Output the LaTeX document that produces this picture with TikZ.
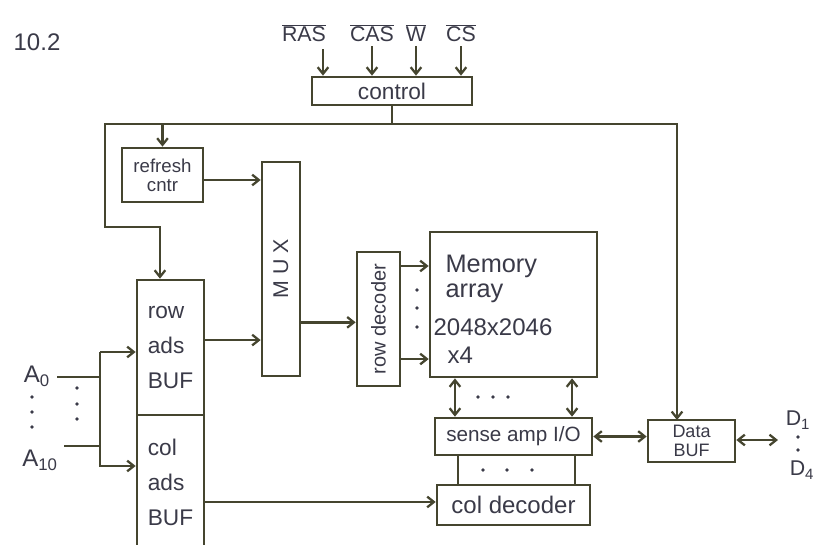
\documentclass[tikz,border=0pt]{standalone}
\usepackage{fontspec}
\setmainfont{Liberation Sans}
\usetikzlibrary{arrows.meta}
\definecolor{ink}{HTML}{45452F}
\definecolor{txt}{HTML}{3A3A48}
\tikzset{
  box/.style={draw=ink, line width=2pt, rectangle, inner sep=0pt, text=txt, font=\fontsize{13}{15}\selectfont},
  conn/.style={draw=ink, line width=2pt},
  arr/.style={conn, -{Straight Barb[length=5pt,width=8pt,line width=1.7pt]}},
  darr/.style={conn, {Straight Barb[length=5pt,width=8pt,line width=1.7pt]}-{Straight Barb[length=5pt,width=8pt,line width=1.7pt]}},
  lbl/.style={text=txt, font=\fontsize{16}{18}\selectfont, inner sep=1pt},
  dotc/.style={fill=txt, circle, inner sep=0pt, minimum size=2.8pt}
}
\begin{document}
\begin{tikzpicture}[x=0.75pt,y=-0.75pt]
\useasboundingbox (0,0) rectangle (820,544);
\fill[white] (0,0) rectangle (820,544);

% title
\node[lbl, font=\fontsize{18}{20}\selectfont] (title) at (37,42) {10.2};

% control signals
\node[lbl] (ras) at (304,33) {$\overline{\mbox{RAS}}$};
\node[lbl] (cas) at (372,33) {$\overline{\mbox{CAS}}$};
\node[lbl] (w) at (416,33) {$\overline{\mbox{W}}$};
\node[lbl] (cs) at (461,33) {$\overline{\mbox{CS}}$};

% boxes
\node[box, minimum width=120pt, minimum height=21pt, font=\fontsize{17}{19}\selectfont] (control) at (392,91) {control};
\node[box, minimum width=60.75pt, minimum height=40.5pt, align=center, font=\fontsize{14}{14}\selectfont] (refresh) at (162.5,175) {refresh\\cntr};
\node[box, minimum width=28.5pt, minimum height=160.5pt, font=\fontsize{16}{18}\selectfont] (mux) at (281,269) {\rotatebox{90}{M U X}};
\node[box, minimum width=50.25pt, minimum height=101.25pt, align=left, font=\fontsize{17}{26}\selectfont] (rowbuf) at (170.5,347.5) {row\\ads\\BUF};
\node[box, minimum width=50.25pt, minimum height=101.25pt, align=left, font=\fontsize{17}{26}\selectfont] (colbuf) at (170.5,482.5) {col\\ads\\BUF};
\node[box, minimum width=32.25pt, minimum height=100.5pt, font=\fontsize{15}{17}\selectfont] (rowdec) at (378.5,319) {\rotatebox{90}{row decoder}};
\node[box, minimum width=125.25pt, minimum height=108.75pt] (mem) at (513.5,304.5) {};
\node[lbl, anchor=west, font=\fontsize{19}{21}\selectfont] (memt1) at (444,266) {Memory};
\node[lbl, anchor=west, font=\fontsize{19}{21}\selectfont] (memt2) at (444,293) {array};
\node[lbl, anchor=west, font=\fontsize{18}{20}\selectfont] (memt3) at (432,327) {2048x2046};
\node[lbl, anchor=west, font=\fontsize{18}{20}\selectfont] (memt4) at (446,355) {x4};
\node[box, minimum width=117.75pt, minimum height=27.75pt, font=\fontsize{15.5}{17}\selectfont] (sense) at (513.5,436.5) {sense amp I/O};
\node[box, minimum width=114.75pt, minimum height=30pt, font=\fontsize{18}{20}\selectfont] (coldec) at (513.5,505) {col decoder};
\node[box, minimum width=65.25pt, minimum height=31.5pt, align=center, font=\fontsize{13.5}{14.5}\selectfont] (databuf) at (691.5,441) {Data\\BUF};

% signal arrows into control
\draw[arr] (ras.south -| 323,0) ++(0,6) coordinate (rasS) -- (rasS |- control.north);
\draw[arr] ([yshift=-2pt]cas.south) -- (cas.south |- control.north);
\draw[arr] ([yshift=-2pt]w.south) -- (w.south |- control.north);
\draw[arr] ([yshift=-2pt]cs.south) -- (cs.south |- control.north);

% control bus
\coordinate (busJ) at (392,124);
\coordinate (busLL) at (105,227);
\coordinate (dbin) at (677,420);
\draw[conn] (control.south) -- (busJ);
\draw[arr] (busJ) -| (dbin);
\draw[arr] (busJ) -| (busLL) -| ([xshift=-7.9pt]rowbuf.north);
\draw[arr] (refresh.north |- busJ) -- (refresh.north);

% datapath
\draw[arr] ([yshift=-3.75pt]refresh.east) coordinate (t1) -- (t1 -| mux.west);
\draw[arr] ([yshift=5.6pt]rowbuf.east) coordinate (t2) -- (t2 -| mux.west);
\draw[arr] ([yshift=-40pt]mux.east) coordinate (t3) -- (t3 -| rowdec.west);
\draw[arr] ([yshift=39.75pt]rowdec.east) coordinate (t4) -- (t4 -| mem.west);
\draw[arr] ([yshift=-30pt]rowdec.east) coordinate (t5) -- (t5 -| mem.west);
\node[dotc] (rd1) at (417,290) {};
\node[dotc] (rd2) at (417,308) {};
\node[dotc] (rd3) at (417,327) {};

\draw[darr] ([xshift=-43.9pt]mem.south) coordinate (t6) -- (t6 |- sense.north);
\draw[darr] ([xshift=43.9pt]mem.south) coordinate (t7) -- (t7 |- sense.north);
\node[dotc] (md1) at (478,397) {};
\node[dotc] (md2) at (493,397) {};
\node[dotc] (md3) at (508,397) {};

\draw[conn] ([xshift=-41.6pt]sense.south) coordinate (t8) -- (t8 |- coldec.north);
\draw[conn] ([xshift=46.1pt]sense.south) coordinate (t9) -- (t9 |- coldec.north);
\node[dotc] (sd1) at (483,470) {};
\node[dotc] (sd2) at (507,470) {};
\node[dotc] (sd3) at (532,470) {};

\draw[arr] ([yshift=-14.6pt]colbuf.east) coordinate (t10) -- (t10 -| coldec.west);
\draw[darr] (sense.east) -- (sense.east -| databuf.west);
\coordinate (dout) at (778,440);
\draw[darr] (databuf.east |- dout) -- (dout);

% D outputs
\node[lbl] (d1) at (798,420) {D\textsubscript{1}};
\node[dotc] (dd1) at (798,437) {};
\node[dotc] (dd2) at (798,450) {};
\node[lbl] (d4) at (802,470) {D\textsubscript{4}};

% address inputs
\node[lbl, font=\fontsize{18}{20}\selectfont] (a0) at (37,376) {A\textsubscript{0}};
\node[lbl, font=\fontsize{18}{20}\selectfont] (a10) at (40,460) {A\textsubscript{10}};
\node[dotc] (ad1) at (32,397) {};
\node[dotc] (ad2) at (32,412) {};
\node[dotc] (ad3) at (32,427) {};
\node[dotc] (ae1) at (77,388) {};
\node[dotc] (ae2) at (77,404) {};
\node[dotc] (ae3) at (77,419) {};
\coordinate (splitT) at (100,352);
\coordinate (splitB) at (100,466);
\draw[arr] (splitT) -- (splitT -| rowbuf.west);
\draw[arr] (splitT) -- (splitB) -- (splitB -| colbuf.west);
\draw[conn] (57,377) coordinate (t11) -- (t11 -| splitT);
\draw[conn] (64,446) coordinate (t12) -- (t12 -| splitT);
\end{tikzpicture}
\end{document}
